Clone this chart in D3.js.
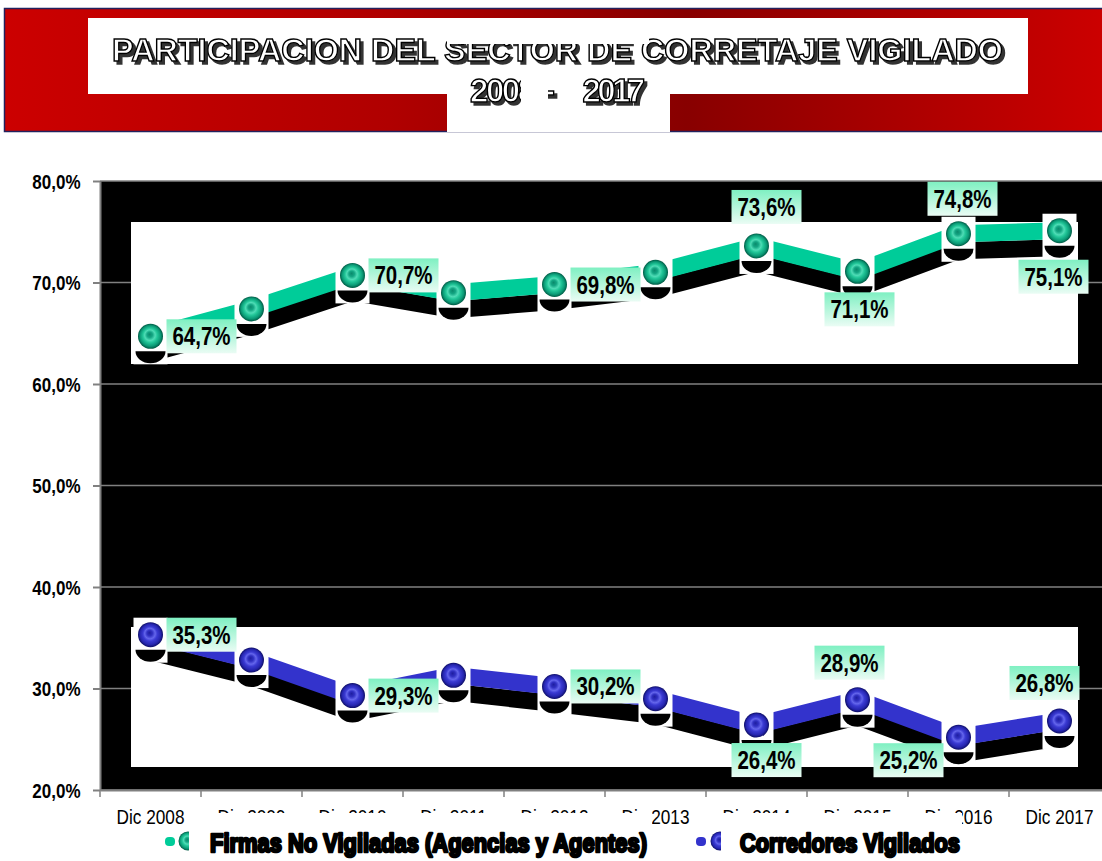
<!DOCTYPE html>
<html><head><meta charset="utf-8">
<script src="https://cdn.jsdelivr.net/npm/d3@7"></script>
<style>html,body{margin:0;padding:0;background:#fff;}svg{display:block;}</style>
</head><body>
<svg id="c" width="1102" height="861"></svg>
<script>
// ---------- data ----------
const categories = ["Dic 2008","Dic 2009","Dic 2010","Dic 2011","Dic 2012","Dic 2013","Dic 2014","Dic 2015","Dic 2016","Dic 2017"];
const firmasNoVigiladas = [64.7, 67.4, 70.7, 69.0, 69.8, 71.0, 73.6, 71.1, 74.8, 75.1];
const corredoresVigilados = [35.3, 32.8, 29.3, 31.3, 30.2, 29.0, 26.4, 28.9, 25.2, 26.8];
const yTicks = [20, 30, 40, 50, 60, 70, 80];
const seriesNames = ["Firmas No Vigiladas (Agencias y Agentes)", "Corredores Vigilados"];
const titleLine1 = "PARTICIPACION DEL SECTOR DE CORRETAJE VIGILADO";
const titleYears = ["2008", "-", "2017"];
// label placement (layout only): [position, dx, dy]
const firmasLabels = [["right",0,0],null,["right",0,0],null,["right",0,0],null,["above",10,-3],["below",2,0],["above",4,1],["below",-6,8]];
const corredoresLabels = [["right",0,0],null,["right",0,0],null,["right",0,0],null,["below",10,-3],["above",-8,-1],["belowLeft",0,-2],["above",-15,-2]];

// ---------- setup ----------
const svg = d3.select("#c");
const defs = svg.append("defs");
const FONT = "'Liberation Sans', Arial, sans-serif";
const fmt = v => d3.format(".1f")(v).replace(".", ",");

function linGrad(id, stops, x2, y2) {
  const g = defs.append("linearGradient").attr("id", id)
    .attr("x1", 0).attr("y1", 0).attr("x2", x2).attr("y2", y2);
  stops.forEach(s => g.append("stop").attr("offset", s[0]).attr("stop-color", s[1]));
}
function radGrad(id, stops) {
  const g = defs.append("radialGradient").attr("id", id)
    .attr("cx", "50%").attr("cy", "50%").attr("r", "50%").attr("fx", "46%").attr("fy", "42%");
  stops.forEach(s => g.append("stop").attr("offset", s[0]).attr("stop-color", s[1]));
}
linGrad("banner", [["0%","#cc0000"],["35%","#b00000"],["62%","#880000"],["100%","#cc0000"]], 1, 0);
linGrad("lbl", [["0%","#7ff0c2"],["100%","#eafcf4"]], 0, 1);
radGrad("sphTeal", [["0%","#0a8a6c"],["22%","#14a683"],["42%","#4fdcb6"],["58%","#22c698"],["82%","#0b9a76"],["100%","#005a44"]]);
radGrad("sphBlue", [["0%","#1e1ea0"],["22%","#3030c2"],["42%","#6466ec"],["58%","#3a3ad2"],["82%","#2626b0"],["100%","#0e0e66"]]);

const shadow = defs.append("filter").attr("id", "tshadow").attr("x", "-5%").attr("y", "-20%").attr("width", "110%").attr("height", "150%");
shadow.append("feOffset").attr("in", "SourceAlpha").attr("dx", 3).attr("dy", 3).attr("result", "off");
shadow.append("feFlood").attr("flood-color", "#333").attr("result", "col");
shadow.append("feComposite").attr("in", "col").attr("in2", "off").attr("operator", "in").attr("result", "sh");
const mg = shadow.append("feMerge");
mg.append("feMergeNode").attr("in", "sh");
mg.append("feMergeNode").attr("in", "SourceGraphic");

// ---------- title banner ----------
svg.append("rect").attr("x", 4.5).attr("y", 8.5).attr("width", 1100).attr("height", 123)
  .attr("fill", "url(#banner)").attr("stroke", "#22225e").attr("stroke-width", 1.5);
svg.append("rect").attr("x", 88).attr("y", 18).attr("width", 940).attr("height", 76).attr("fill", "#fff");
svg.append("rect").attr("x", 447).attr("y", 93).attr("width", 223).attr("height", 39).attr("fill", "#fff");

function styleTitle(t, size) {
  t.attr("font-family", FONT).attr("font-weight", "bold").attr("font-size", size)
    .attr("lengthAdjust", "spacingAndGlyphs")
    .attr("fill", "#fff").attr("stroke", "#000").attr("stroke-width", 1.4)
    .attr("filter", "url(#tshadow)");
  return t;
}
styleTitle(svg.append("text").attr("x", 112).attr("y", 61).attr("textLength", 891).text(titleLine1), 32);
const yr = styleTitle(svg.append("text").attr("y", 102), 33);
yr.append("tspan").attr("x", 470).attr("textLength", 66).text(titleYears[0]);
yr.append("tspan").attr("x", 544).attr("textLength", 11).text(" " + titleYears[1]).attr("textLength", 11);
yr.append("tspan").attr("x", 577).attr("textLength", 68).text(" " + titleYears[2]);
// rendering gaps seen in the reference title
svg.append("rect").attr("x", 447).attr("y", 28).attr("width", 202).attr("height", 16).attr("fill", "#fff");
svg.append("rect").attr("x", 521).attr("y", 72).attr("width", 27).attr("height", 36).attr("fill", "#fff");

// ---------- scales ----------
const x = d3.scaleBand().domain(categories).range([100, 1110]);
const y = d3.scaleLinear().domain([20, 80]).range([790, 181]);
const cx = c => x(c) + x.bandwidth() / 2;

// plot background
svg.append("rect").attr("x", 100).attr("y", y(80)).attr("width", 1002).attr("height", y(20) - y(80)).attr("fill", "#000");
// gridlines
svg.append("g").selectAll("line").data(yTicks).join("line")
  .attr("x1", 100).attr("x2", 1102).attr("y1", d => y(d)).attr("y2", d => y(d))
  .attr("stroke", "#808080").attr("stroke-width", 1.5);
// white panels
svg.append("rect").attr("x", 131).attr("y", 222).attr("width", 947).attr("height", 142).attr("fill", "#fff");
svg.append("rect").attr("x", 131).attr("y", 627).attr("width", 947).attr("height", 140).attr("fill", "#fff");

// ---------- axes ----------
const gy = svg.append("g").attr("transform", "translate(100,0)")
  .call(d3.axisLeft(y).tickValues(yTicks).tickSize(7).tickSizeOuter(0).tickFormat(d => fmt(d) + "%"));
gy.select(".domain").attr("stroke", "#808080").attr("stroke-width", 2);
gy.selectAll(".tick line").attr("stroke", "#808080").attr("stroke-width", 2);
gy.selectAll(".tick text").attr("x", 0).attr("dy", "0.36em")
  .attr("transform", "translate(-19.5,0) scale(0.85,1)")
  .attr("font-family", FONT).attr("font-weight", "bold").attr("font-size", 20)
  .attr("fill", "#000").attr("text-anchor", "end");

const gx = svg.append("g").attr("transform", "translate(0,790)")
  .call(d3.axisBottom(x).tickSize(0).tickSizeOuter(0));
gx.select(".domain").attr("stroke", "#808080").attr("stroke-width", 2);
gx.selectAll(".tick text").attr("y", 34).attr("dy", 0)
  .attr("transform", "scale(0.82,1)")
  .attr("font-family", FONT).attr("font-size", 21).attr("fill", "#000");
gx.selectAll(".bt").data(categories.map(c => x(c)).concat([x.range()[1]])).join("line")
  .attr("class", "bt").attr("x1", d => d).attr("x2", d => d).attr("y1", 0).attr("y2", 7)
  .attr("stroke", "#808080").attr("stroke-width", 1.5);

// ---------- series ----------
const series = [
  {values: firmasNoVigiladas, color: "#00cc99", sphere: "url(#sphTeal)", labels: firmasLabels},
  {values: corredoresVigilados, color: "#3333cc", sphere: "url(#sphBlue)", labels: corredoresLabels}
];
const BAND = 17;
const line = d3.line().x((d, i) => cx(categories[i])).y(d => y(d));

series.forEach(s => {
  const g = svg.append("g");
  g.append("path").attr("d", line(s.values)).attr("transform", `translate(0,${BAND})`)
    .attr("fill", "none").attr("stroke", "#000").attr("stroke-width", BAND).attr("stroke-linejoin", "miter");
  g.append("path").attr("d", line(s.values))
    .attr("fill", "none").attr("stroke", s.color).attr("stroke-width", BAND).attr("stroke-linejoin", "miter");
  const pts = g.selectAll(".pt").data(s.values).join("g").attr("class", "pt")
    .attr("transform", (d, i) => `translate(${cx(categories[i])},${y(d)})`);
  pts.append("rect").attr("x", -17).attr("y", -17).attr("width", 34).attr("height", 45).attr("fill", "#fff");
  pts.append("path").attr("d", "M-15,15 A15,12 0 0 0 15,15 Z").attr("fill", "#000");
  pts.append("circle").attr("r", 12.5).attr("fill", s.sphere);
});

// ---------- data labels ----------
const LW = 70, LH = 34;
series.forEach(s => {
  s.values.forEach((v, i) => {
    const spec = s.labels[i];
    if (!spec) return;
    const px = cx(categories[i]), py = y(v);
    let bx, by;
    if (spec[0] === "right") { bx = px + 16; by = py - LH / 2; }
    else if (spec[0] === "above") { bx = px - LW / 2; by = py - 19 - LH; }
    else if (spec[0] === "below") { bx = px - LW / 2; by = py + 21; }
    else { bx = px - 15 - LW; by = py + 8; }
    bx += spec[1]; by += spec[2];
    svg.append("rect").attr("x", bx).attr("y", by).attr("width", LW).attr("height", LH).attr("fill", "url(#lbl)");
    svg.append("text").attr("transform", `translate(${bx + LW / 2},${by + 26}) scale(0.82,1)`)
      .attr("text-anchor", "middle").attr("font-family", FONT).attr("font-weight", "bold")
      .attr("font-size", 25).attr("fill", "#000").text(fmt(v) + "%");
  });
});

// ---------- legend ----------
const legendItems = [
  {name: seriesNames[0], color: "#00cc99", sphere: "url(#sphTeal)", sx: 165, cxm: 188, box: [189, 463], tx: 210, tl: 437},
  {name: seriesNames[1], color: "#3333cc", sphere: "url(#sphBlue)", sx: 696, cxm: 720, box: [721, 241], tx: 740, tl: 220}
];
legendItems.forEach(L => {
  svg.append("rect").attr("x", L.sx).attr("y", 837).attr("width", 10).attr("height", 9).attr("rx", 4).attr("fill", L.color);
  svg.append("circle").attr("cx", L.cxm).attr("cy", 841).attr("r", 9.5).attr("fill", L.sphere);
  svg.append("rect").attr("x", L.box[0]).attr("y", 813).attr("width", L.box[1]).attr("height", 48).attr("fill", "#fff");
  svg.append("text").attr("x", L.tx).attr("y", 852).text(L.name)
    .attr("font-family", FONT).attr("font-weight", "bold").attr("font-size", 26)
    .attr("textLength", L.tl).attr("lengthAdjust", "spacingAndGlyphs")
    .attr("fill", "#000").attr("stroke", "#000").attr("stroke-width", 2.6).attr("stroke-linejoin", "round");
});
</script>
</body></html>
